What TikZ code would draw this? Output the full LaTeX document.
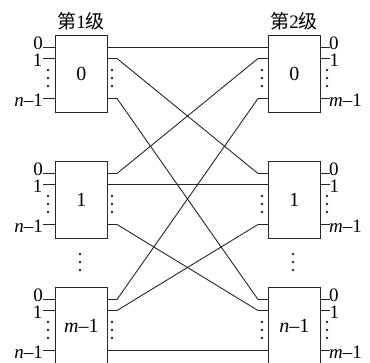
\documentclass[tikz,border=0pt]{standalone}
\usepackage{fontspec}
\setmainfont{Liberation Serif}
\newfontfamily\cjk{Noto Sans CJK SC}
\begin{document}
\begin{tikzpicture}[x=1pt,y=-1pt,
  wire/.style={line width=0.9pt, draw=black!85},
  switchbox/.style={draw=black!85, line width=0.9pt, fill=white, minimum width=52pt,
    minimum height=77pt, inner sep=0pt, anchor=north west,
    font=\fontsize{20}{20}\selectfont},
  portlabel/.style={inner sep=0pt, font=\fontsize{19}{19}\selectfont},
  stagetitle/.style={inner sep=0pt, font=\fontsize{19}{19}\selectfont},
  dot/.style={fill=black!85, draw=none}]
\useasboundingbox (0,0) rectangle (370,362);

% stage titles
\node[stagetitle] (t1) at (81,21) {{\cjk 第}1{\cjk 级}};
\node[stagetitle] (t2) at (294,21) {{\cjk 第}2{\cjk 级}};

% switches of both stages, with their port coordinates
\foreach \i/\t/\lt/\rt in {0/35/0/0, 1/161/1/1, 2/287/{\textit{m}–1}/{\textit{n}–1}} {
  \node[switchbox] (L\i) at (55,\t) {\lt};
  \node[switchbox] (R\i) at (268,\t) {\rt};
  \foreach \k/\o in {0/12.5, 1/23.5, 2/63.5} {
    % first stage: inputs on the left, outputs on the right
    \coordinate (L\i in\k) at (43,\t+\o);
    \coordinate (L\i e\k) at (55,\t+\o);
    \coordinate (L\i o\k) at (107,\t+\o);
    \coordinate (L\i k\k) at (117,\t+\o);
    % second stage
    \coordinate (R\i k\k) at (258,\t+\o);
    \coordinate (R\i e\k) at (268,\t+\o);
    \coordinate (R\i o\k) at (320,\t+\o);
    \coordinate (R\i out\k) at (330,\t+\o);
    \draw[wire] (L\i in\k) -- (L\i e\k);
    \draw[wire] (R\i o\k) -- (R\i out\k);
  }
  % port labels
  \node[portlabel, anchor=east] (L\i l0) at ([xshift=0pt,yshift=4.2pt]L\i in0) {0};
  \node[portlabel, anchor=east] (L\i l1) at ([xshift=-0.5pt,yshift=-2pt]L\i in1) {1};
  \node[portlabel, anchor=east] (L\i l2) at ([xshift=0pt,yshift=-2pt]L\i in2) {\textit{n}–1};
  \node[portlabel, anchor=west] (R\i l0) at ([xshift=-1pt,yshift=4.2pt]R\i out0) {0};
  \node[portlabel, anchor=west] (R\i l1) at ([xshift=-0.5pt,yshift=-2pt]R\i out1) {1};
  \node[portlabel, anchor=west] (R\i l2) at ([xshift=-1pt,yshift=-2pt]R\i out2) {\textit{m}–1};
  % elided ports beside each switch
  \foreach \x in {48,112,262,327}
    \foreach \d in {35,43,51}
      \fill[dot] (\x,\t+\d) circle (1.3pt);
}

% elided switches between the second and last rows
\foreach \x in {80,293}
  \foreach \y in {254,262,270}
    \fill[dot] (\x,\y) circle (1.3pt);

% interconnection: output k of first-stage switch i to input i of second-stage switch k
\foreach \i in {0,1,2}
  \foreach \k in {0,1,2}
    \draw[wire] (L\i o\k) -- (L\i k\k) -- (R\k k\i) -- (R\k e\i);
\end{tikzpicture}
\end{document}
